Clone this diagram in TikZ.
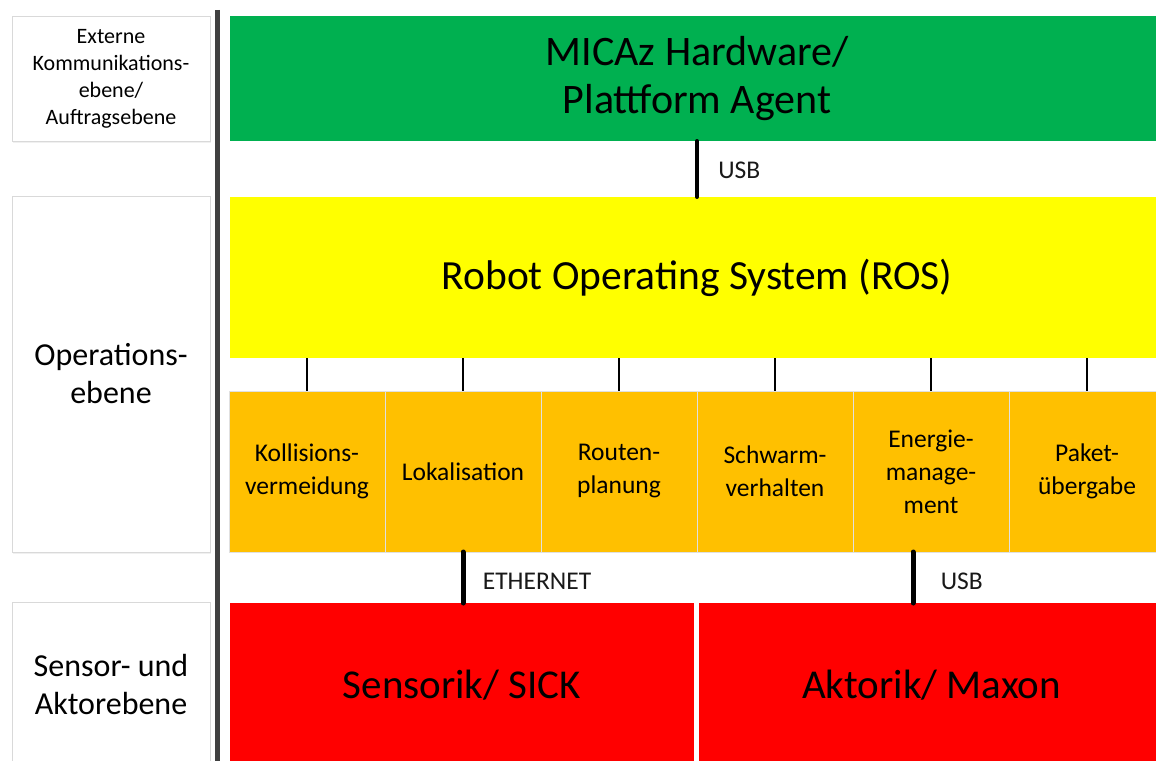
\documentclass[tikz,border=0pt]{standalone}
\usepackage{fontspec}
\setmainfont{Carlito}
\usetikzlibrary{calc,shadows}

\tikzset{
    block/.style={inner sep=0pt, outer sep=0pt, anchor=north west, align=center, text=black},
    ebene/.style={block, draw=black!15, fill=white, minimum width=198,
        drop shadow={opacity=0.12, shadow xshift=1pt, shadow yshift=-2pt}},
    modul/.style={block, fill=orangeA, draw=black!12, minimum width=156, minimum height=161,
        font=\fontsize{25.5}{33}\selectfont},
    bus/.style={line width=#1, line cap=round, black},
    buslabel/.style={right, font=\fontsize{25.5}{28}\selectfont, text=black!90}
}
\definecolor{greenA}{HTML}{00B050}
\definecolor{yellowA}{HTML}{FFFF00}
\definecolor{orangeA}{HTML}{FFC000}
\definecolor{redA}{HTML}{FF0000}

\begin{document}
\begin{tikzpicture}[x=1pt, y=-1pt]
    \useasboundingbox (0,0) rectangle (1156,760);
    \clip (0,0) rectangle (1156,760);

    % Ebenen links
    \node[ebene, minimum height=125, font=\fontsize{22}{27}\selectfont] (extern) at (12,16)
        {Externe\\Kommunikations-\\ebene/\\Auftragsebene};
    \node[ebene, minimum height=356, font=\fontsize{32}{38}\selectfont] (operation) at (12,196)
        {Operations-\\ebene};
    \node[ebene, minimum height=164, font=\fontsize{32}{38}\selectfont] (sensor) at (12,602)
        {Sensor- und\\Aktorebene};

    % Trennlinie
    \draw[line width=5, black!75] (217,10) -- (217,770);

    % Bloecke rechts
    \node[block, fill=greenA, minimum width=934, minimum height=125,
        font=\fontsize{42}{48}\selectfont] (micaz) at (230,16) {MICAz Hardware/\\Plattform Agent};
    \node[block, fill=yellowA, minimum width=934, minimum height=161,
        font=\fontsize{41.5}{48}\selectfont] (ros) at (230,197) {Robot Operating System (ROS)};

    \node[modul] (kollision) at (229,391) {Kollisions-\\vermeidung};
    \node[modul] (lokal) at (kollision.north east) {Lokalisation};
    \node[modul] (route) at (lokal.north east) {Routen-\\planung};
    \node[modul] (schwarm) at (route.north east) {Schwarm-\\verhalten};
    \node[modul] (energie) at (schwarm.north east) {Energie-\\manage-\\ment};
    \node[modul] (paket) at (energie.north east) {Paket-\\übergabe};

    \node[block, fill=redA, minimum width=464, minimum height=164,
        font=\fontsize{41}{48}\selectfont] (sensorik) at (230,603) {Sensorik/ SICK};
    \node[block, fill=redA, minimum width=465, minimum height=164,
        font=\fontsize{41}{48}\selectfont] (aktorik) at (699,603) {Aktorik/ Maxon};

    % Verbindungen
    \draw[bus=4] (micaz.south) -- node[buslabel, xshift=16, yshift=-1] {USB} (ros.north);
    \foreach \m in {kollision, lokal, route, schwarm, energie, paket}
        \draw[line width=2.5] (ros.south -| \m.north) -- (\m.north);
    \draw[bus=5] (lokal.south) -- node[buslabel, xshift=14, yshift=-4] {ETHERNET} (lokal.south |- sensorik.north);
    \coordinate (usbb) at ($(energie.south)+(-18,0)$);
    \draw[bus=5] (usbb) -- node[buslabel, xshift=22, yshift=-4] {USB} (usbb |- aktorik.north);
\end{tikzpicture}
\end{document}
